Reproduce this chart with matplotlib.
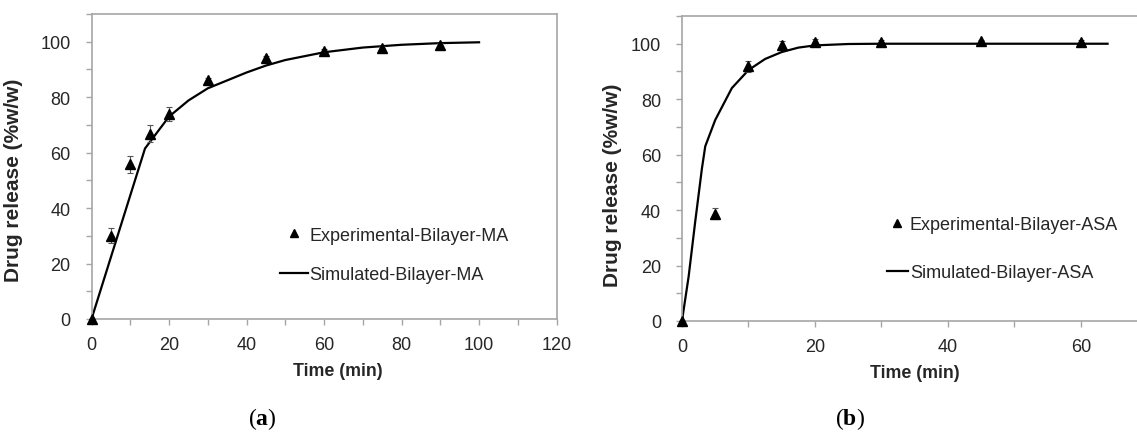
import matplotlib
matplotlib.use('Agg')
from matplotlib import pyplot as plt
from matplotlib.lines import Line2D
from matplotlib.ticker import MultipleLocator

# -- Dados (a): Bilayer-MA --
tempo_a = [0, 5, 10, 15, 20, 30, 45, 60, 75, 90]
liberacao_a = [0, 30.1, 55.8, 66.9, 73.9, 86.1, 94.0, 96.6, 97.6, 98.8]
erro_a = [0, 2.6, 3.0, 3.0, 2.5, 0.8, 0.8, 0.8, 0.8, 0.8]

sim_tempo_a = [0, 5, 10, 13.8, 20, 25, 30, 40, 45, 50, 60, 70, 80, 90, 100]
sim_lib_a = [0, 22.3, 44.6, 61.5, 73.0, 78.8, 83.2, 88.9, 91.4, 93.4, 96.2, 97.9, 98.9, 99.5, 99.8]

# -- Dados (b): Bilayer-ASA --
tempo_b = [0, 5, 10, 15, 20, 30, 45, 60]
liberacao_b = [0, 38.7, 91.8, 99.6, 100.6, 100.7, 101.0, 100.8]
erro_b = [0, 2.0, 2.0, 1.5, 1.0, 0.5, 0.5, 0.5]

sim_tempo_b = [0, 1, 2, 3, 3.5, 5, 7.5, 10, 12.5, 15, 17.5, 20, 25, 30, 40, 50, 64]
sim_lib_b = [0, 16, 36, 55, 63, 72.5, 84, 90.5, 94.5, 97.0, 98.6, 99.4, 99.9, 100, 100, 100, 100]

plt.rcParams['font.family'] = ['Liberation Sans', 'DejaVu Sans']
plt.rcParams['mathtext.fontset'] = 'custom'
plt.rcParams['mathtext.bf'] = 'Liberation Serif:bold'
plt.rcParams['mathtext.rm'] = 'Liberation Serif'

cinza = '#a6a6a6'
texto = '#262626'

fig = plt.figure(figsize=(11.37, 4.35), dpi=100)
ax_a = fig.add_axes([0.0805, 0.2644, 0.409, 0.7011])
ax_b = fig.add_axes([0.5998, 0.2598, 0.4094, 0.7011])


def formata(ax, xmax):
    ax.set_xlim(0, xmax)
    ax.set_ylim(0, 110)
    ax.xaxis.set_major_locator(MultipleLocator(20))
    ax.xaxis.set_minor_locator(MultipleLocator(10))
    ax.yaxis.set_minor_locator(MultipleLocator(10))
    ax.set_yticks([0, 20, 40, 60, 80, 100])
    for s in ax.spines.values():
        s.set_color(cinza)
        s.set_linewidth(1.2)
    ax.tick_params(which='both', direction='out', length=4, width=1, color=cinza,
                   top=False, right=False)
    ax.tick_params(axis='x', labelsize=13, labelcolor=texto, pad=8)
    ax.tick_params(axis='y', labelsize=13, labelcolor=texto, pad=11)
    ax.set_xlabel('Time (min)', fontsize=12.8, fontweight='bold', color=texto)
    ax.set_ylabel('Drug release (%w/w)', fontsize=15, fontweight='bold', color=texto)


formata(ax_a, 120)
formata(ax_b, 70)
ax_b.set_xticks([0, 20, 40, 60])

ax_a.xaxis.set_label_coords(0.530, -0.141)
ax_a.yaxis.set_label_coords(-0.147, 0.459)
ax_b.xaxis.set_label_coords(0.500, -0.141)
ax_b.yaxis.set_label_coords(-0.129, 0.449)

# Curvas simuladas
ax_a.plot(sim_tempo_a, sim_lib_a, color='black', lw=1.6, zorder=2)
ax_b.plot(sim_tempo_b, sim_lib_b, color='black', lw=1.6, zorder=2)

# Pontos experimentais
ax_a.errorbar(tempo_a, liberacao_a, yerr=erro_a, fmt='^', color='black', ms=7,
              ecolor='#555555', elinewidth=0.8, capsize=2.5, capthick=0.8, zorder=3, clip_on=False)
ax_b.errorbar(tempo_b, liberacao_b, yerr=erro_b, fmt='^', color='black', ms=7,
              ecolor='#555555', elinewidth=0.8, capsize=2.5, capthick=0.8, zorder=3, clip_on=False)

# Legendas
h_exp = Line2D([], [], marker='^', color='black', ls='none', ms=6)
h_sim = Line2D([], [], color='black', lw=1.6)

ax_a.legend([h_exp, h_sim], ['Experimental-Bilayer-MA', 'Simulated-Bilayer-MA'],
            loc='upper left', bbox_to_anchor=(0.405, 0.303), frameon=False,
            fontsize=13, handlelength=1.55, handletextpad=0.1, labelspacing=1.26,
            borderpad=0, borderaxespad=0, labelcolor=texto)
ax_b.legend([h_exp, h_sim], ['Experimental-Bilayer-ASA', 'Simulated-Bilayer-ASA'],
            loc='upper left', bbox_to_anchor=(0.441, 0.343), frameon=False,
            fontsize=13, handlelength=1.13, handletextpad=0.12, labelspacing=1.70,
            borderpad=0, borderaxespad=0, labelcolor=texto)

# Rótulos dos painéis
fig.text(262 / 1137, 1 - 419 / 435, r'($\mathbf{a}$)', fontsize=17, ha='center', va='center',
         family='Liberation Serif', color='black')
fig.text(850 / 1137, 1 - 419 / 435, r'($\mathbf{b}$)', fontsize=17, ha='center', va='center',
         family='Liberation Serif', color='black')

fig.savefig('out.png', dpi=100)
